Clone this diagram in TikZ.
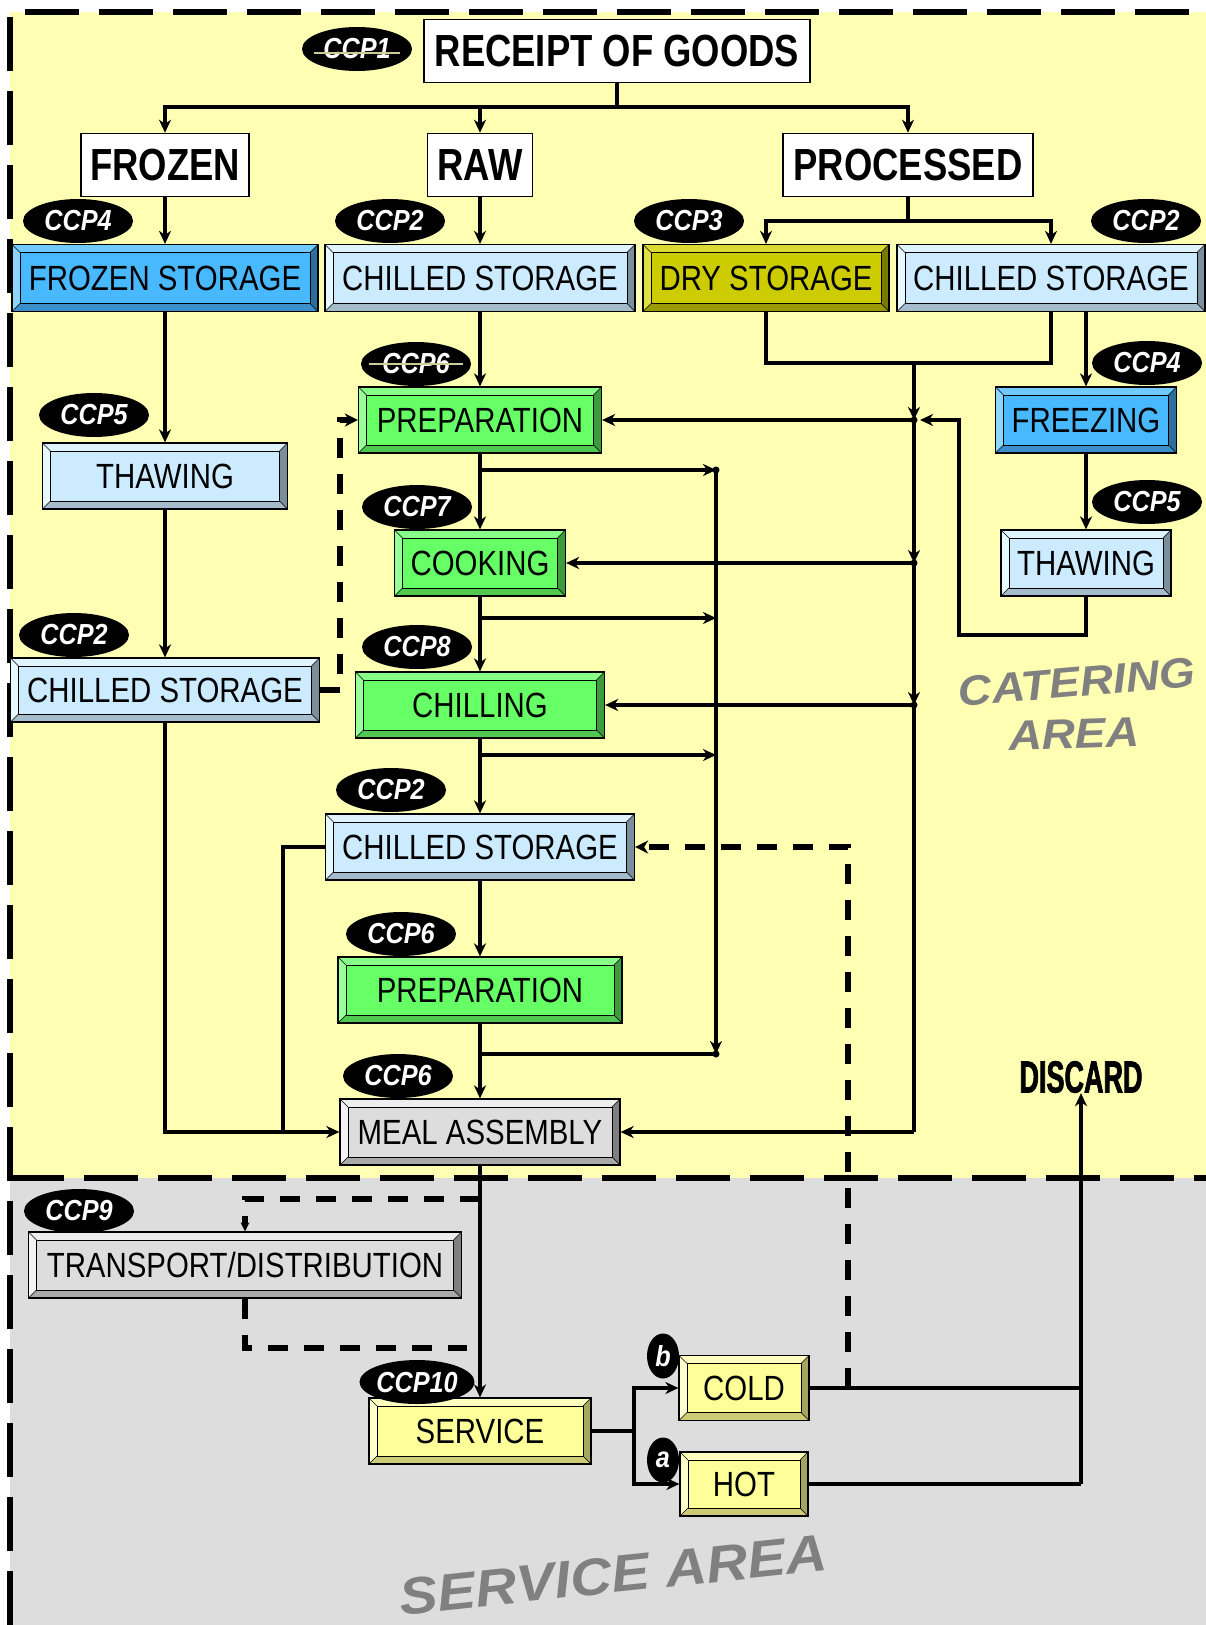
\documentclass[tikz,border=0pt]{standalone}
\usepackage{fontspec}
\setmainfont{Liberation Sans}
\newfontfamily\stagefam[FakeStretch=0.84]{Liberation Sans}
\newfontfamily\titlefam[FakeStretch=0.81]{Liberation Sans}
\newfontfamily\tagfam[FakeStretch=0.87]{Liberation Sans}
\newfontfamily\discfam[FakeStretch=0.6,FakeBold=1.6]{Liberation Sans}
\newfontfamily\zonefam[FakeStretch=1.1]{Liberation Sans}
\newcommand\stagefont{\stagefam\fontsize{35}{40}\selectfont}
\newcommand\titlefont{\titlefam\bfseries\fontsize{45}{50}\selectfont}
\newcommand\tagfont{\tagfam\bfseries\itshape\fontsize{29}{33}\selectfont}
\newcommand\discfont{\discfam\bfseries\fontsize{45}{50}\selectfont}
\newcommand\zonefont{\zonefam\bfseries\itshape\fontsize{42}{46}\selectfont}
\usepackage{xcolor}
\definecolor{hcyellow}{HTML}{FFFFB3}
\definecolor{hcgrey}{HTML}{DDDDDD}
\definecolor{hczone}{HTML}{808080}
\definecolor{hcstrike}{HTML}{CCCC99}
\definecolor{hcblue}{HTML}{48B8FF}
\definecolor{hcbluetop}{HTML}{70CAFF}
\definecolor{hcblueleft}{HTML}{8CD5FF}
\definecolor{hcbluebot}{HTML}{3A8FCC}
\definecolor{hcblueright}{HTML}{2C6E9E}
\definecolor{hcice}{HTML}{CCEBFF}
\definecolor{hcicetop}{HTML}{E0F4FF}
\definecolor{hciceleft}{HTML}{E8F8FF}
\definecolor{hcicebot}{HTML}{A5BCCC}
\definecolor{hciceright}{HTML}{7B8E9C}
\definecolor{hcgreen}{HTML}{66FF66}
\definecolor{hcgreentop}{HTML}{88FF88}
\definecolor{hcgreenleft}{HTML}{99FF99}
\definecolor{hcgreenbot}{HTML}{50C850}
\definecolor{hcgreenright}{HTML}{3C9C3C}
\definecolor{hcolive}{HTML}{CCCC00}
\definecolor{hcolivetop}{HTML}{DADA30}
\definecolor{hcoliveleft}{HTML}{E0E040}
\definecolor{hcolivebot}{HTML}{9A9A00}
\definecolor{hcoliveright}{HTML}{7A7A00}
\definecolor{hcsilver}{HTML}{DDDDDD}
\definecolor{hcsilvertop}{HTML}{EEEEEE}
\definecolor{hcsilverleft}{HTML}{F4F4F4}
\definecolor{hcsilverbot}{HTML}{AAAAAA}
\definecolor{hcsilverright}{HTML}{7F7F7F}
\definecolor{hclemon}{HTML}{FFFF99}
\definecolor{hclemontop}{HTML}{FFFFC0}
\definecolor{hclemonleft}{HTML}{FFFFCC}
\definecolor{hclemonbot}{HTML}{CCCC77}
\definecolor{hclemonright}{HTML}{A5A560}
\usepackage{tikz}
\usetikzlibrary{arrows.meta,positioning,shapes.geometric}
\newcommand\bevelfaces{%
  \path (path picture bounding box.south west) coordinate (bvsw)
        (path picture bounding box.north east) coordinate (bvne)
        (path picture bounding box.north west) coordinate (bvnw)
        (path picture bounding box.south east) coordinate (bvse);
  \fill[bvtop] (bvnw) -- (bvne) -- ([shift={(-8pt,-8pt)}]bvne) -- ([shift={(8pt,-8pt)}]bvnw) -- cycle;
  \fill[bvleft] (bvnw) -- ([shift={(8pt,-8pt)}]bvnw) -- ([shift={(8pt,8pt)}]bvsw) -- (bvsw) -- cycle;
  \fill[bvbot] (bvsw) -- ([shift={(8pt,8pt)}]bvsw) -- ([shift={(-8pt,8pt)}]bvse) -- (bvse) -- cycle;
  \fill[bvright] (bvse) -- ([shift={(-8pt,8pt)}]bvse) -- ([shift={(-8pt,-8pt)}]bvne) -- (bvne) -- cycle;
  \draw[line width=0.9pt] ([shift={(8pt,8pt)}]bvsw) rectangle ([shift={(-8pt,-8pt)}]bvne);
  \draw[line width=0.6pt] (bvsw) -- ([shift={(8pt,8pt)}]bvsw) (bvse) -- ([shift={(-8pt,8pt)}]bvse)
    (bvne) -- ([shift={(-8pt,-8pt)}]bvne) (bvnw) -- ([shift={(8pt,-8pt)}]bvnw);}

\begin{document}
\begin{tikzpicture}[x=1pt, y=-1pt,
  bevel colors/.code n args={5}{\colorlet{bvface}{#1}\colorlet{bvtop}{#2}%
    \colorlet{bvleft}{#3}\colorlet{bvbot}{#4}\colorlet{bvright}{#5}},
  stage/.style={draw=black, line width=1.2pt, fill=bvface, inner sep=0pt,
                minimum height=66pt, font=\stagefont, path picture={\bevelfaces}},
  frzbox/.style={stage, bevel colors={hcblue}{hcbluetop}{hcblueleft}{hcbluebot}{hcblueright}},
  icebox/.style={stage, bevel colors={hcice}{hcicetop}{hciceleft}{hcicebot}{hciceright}},
  cookbox/.style={stage, bevel colors={hcgreen}{hcgreentop}{hcgreenleft}{hcgreenbot}{hcgreenright}},
  drybox/.style={stage, bevel colors={hcolive}{hcolivetop}{hcoliveleft}{hcolivebot}{hcoliveright}},
  greybox/.style={stage, bevel colors={hcsilver}{hcsilvertop}{hcsilverleft}{hcsilverbot}{hcsilverright}},
  servbox/.style={stage, bevel colors={hclemon}{hclemontop}{hclemonleft}{hclemonbot}{hclemonright}},
  plain/.style={draw=black, line width=1.5pt, fill=white, inner sep=0pt,
                minimum height=63pt, font=\titlefont},
  tag/.style={ellipse, fill=black, text=white, inner sep=0pt,
              minimum width=110pt, minimum height=44pt, font=\tagfont},
  letter/.style={tag, minimum width=32pt, minimum height=45pt},
  zone/.style={text=hczone, font=\zonefont, inner sep=0pt},
  arr/.style={line width=4pt, -{Stealth[length=13pt,width=12pt,inset=4pt]}},
  link/.style={line width=4pt},
  dasharr/.style={line width=6pt, dash pattern=on 20pt off 16pt,
                  -{Stealth[length=13pt,width=13pt,inset=4pt]}},
  dashlink/.style={line width=6pt, dash pattern=on 20pt off 16pt},
  border/.style={line width=6pt, dash pattern=on 54pt off 20pt},
  strike/.style={line width=1.2pt, draw=hcstrike}
]
  \useasboundingbox (0,0) rectangle (1206,1625);
  \fill[hcyellow] (10,12) rectangle (1206,1178);
  \fill[hcgrey] (10,1178) rectangle (1206,1625);
  \draw[border] (10,1625) -- (10,12) -- (1206,12);
  \draw[border] (10,1178) -- (1206,1178);

  \node[plain, minimum width=386pt] (receipt) at (617,51) {RECEIPT OF GOODS};
  \node[tag] (ccp1) at (357,49) {CCP1};
  \node[plain, minimum width=168pt] (frozen) at (165,165) {FROZEN};
  \node[plain, minimum width=105pt] (raw) at (480,165) {RAW};
  \node[plain, minimum width=250pt] (processed) at (908,165) {PROCESSED};
  \node[tag] (ccp4a) at (78,221) {CCP4};
  \node[tag] (ccp2a) at (390,221) {CCP2};
  \node[tag] (ccp3) at (689,221) {CCP3};
  \node[tag] (ccp2b) at (1146,221) {CCP2};
  \node[frzbox, minimum width=306pt, minimum height=67pt] (fstore) at (165,278) {FROZEN STORAGE};
  \node[icebox, minimum width=310pt, minimum height=67pt] (cstore1) at (480,278) {CHILLED STORAGE};
  \node[drybox, minimum width=246pt, minimum height=67pt] (dstore) at (766,278) {DRY STORAGE};
  \node[icebox, minimum width=308pt, minimum height=67pt] (cstore2) at (1051,278) {CHILLED STORAGE};
  \node[tag] (ccp5a) at (94,415) {CCP5};
  \node[icebox, minimum width=245pt] (thaw1) at (165,476) {THAWING};
  \node[tag] (ccp2c) at (74,635) {CCP2};
  \node[icebox, minimum width=309pt, minimum height=64pt] (cstore3) at (165,690) {CHILLED STORAGE};
  \node[tag] (ccp6a) at (416,364) {CCP6};
  \node[cookbox, minimum width=243pt] (prep1) at (480,420) {PREPARATION};
  \node[tag] (ccp7) at (417,507) {CCP7};
  \node[cookbox, minimum width=171pt] (cook) at (480,563) {COOKING};
  \node[tag] (ccp8) at (417,647) {CCP8};
  \node[cookbox, minimum width=249pt] (chill) at (480,705) {CHILLING};
  \node[tag] (ccp2d) at (391,790) {CCP2};
  \node[icebox, minimum width=309pt] (cstore4) at (480,847) {CHILLED STORAGE};
  \node[tag] (ccp6b) at (401,934) {CCP6};
  \node[cookbox, minimum width=284pt] (prep2) at (480,990) {PREPARATION};
  \node[tag] (ccp6c) at (398,1076) {CCP6};
  \node[greybox, minimum width=280pt] (meal) at (480,1132) {MEAL ASSEMBLY};
  \node[tag] (ccp4b) at (1147,363) {CCP4};
  \node[frzbox, minimum width=181pt] (freeze) at (1086,420) {FREEZING};
  \node[tag] (ccp5b) at (1147,502) {CCP5};
  \node[icebox, minimum width=170pt] (thaw2) at (1086,563) {THAWING};
  \node[tag] (ccp9) at (79,1211) {CCP9};
  \node[greybox, minimum width=433pt] (transport) at (245,1265) {TRANSPORT/DISTRIBUTION};
  \node[servbox, minimum width=222pt] (service) at (480,1431) {SERVICE};
  \node[tag] (ccp10) at (417,1382) {CCP10};
  \node[servbox, minimum width=130pt, minimum height=65pt] (cold) at (744,1388) {\raisebox{-5pt}{COLD}};
  \node[servbox, minimum width=128pt, minimum height=64pt] (hot) at (744,1484) {HOT};
  \node[letter] (tagb) at (663,1356) {b};
  \node[letter] (taga) at (663,1460) {a};
  \node[font=\discfont, inner sep=0pt] (discard) at (1081,1077) {DISCARD};
  \node[zone, rotate=5] (catering) at (1077,682) {CATERING};
  \node[zone, rotate=2] (cateringarea) at (1074,734) {AREA};
  \node[zone, font={\zonefam\bfseries\itshape\fontsize{52}{56}\selectfont}, rotate=6]
    (servicearea) at (613,1575) {SERVICE AREA};

  \draw[strike] ([xshift=12pt,yshift=-4pt]ccp1.west) -- ([xshift=-12pt,yshift=-4pt]ccp1.east);
  \draw[strike] ([xshift=8pt]ccp6a.west) -- ([xshift=-8pt]ccp6a.east);

  \coordinate (split1) at (617,107);
  \coordinate (split2) at (908,221);
  \coordinate (drymerge) at (914,363);
  \coordinate (hubA) at (914,420);
  \coordinate (hubB) at (914,563);
  \coordinate (hubC) at (914,705);
  \coordinate (hubD) at (914,1132);
  \coordinate (thawret) at (959,635);
  \coordinate (tapA) at (480,470);
  \coordinate (tapB) at (480,618);
  \coordinate (tapC) at (480,755);
  \coordinate (tapD) at (480,1054);
  \coordinate (loopA) at (716,470);
  \coordinate (loopD) at (716,1054);
  \coordinate (leftjoin) at (283,1132);
  \coordinate (coldtap) at (848,1388);
  \coordinate (servsplit) at (634,1431);
  \coordinate (discardfoot) at (1081,1484);
  \coordinate (trin) at (480,1199);
  \coordinate (trout) at (467,1348);

  \draw[link] (receipt) -- (split1);
  \draw[arr] (split1) -| (frozen);
  \draw[arr] (split1) -| (processed);
  \draw[arr] (raw |- split1) -- (raw);
  \draw[arr] (frozen) -- (fstore);
  \draw[arr] (raw) -- (cstore1);
  \draw[link] (processed) -- (split2);
  \draw[arr] (split2) -| (dstore);
  \draw[arr] (split2) -| (cstore2);
  \draw[arr] (fstore) -- (thaw1);
  \draw[arr] (thaw1) -- (cstore3);
  \draw[arr] (cstore3) |- (meal);
  \draw[dasharr] (cstore3.east) -- ++(20,0) |- (prep1);
  \draw[arr] (cstore1) -- (prep1);
  \draw[arr] (prep1) -- (cook);
  \draw[arr] (cook) -- (chill);
  \draw[arr] (chill) -- (cstore4);
  \draw[arr] (cstore4) -- (prep2);
  \draw[arr] (prep2) -- (meal);
  \draw[arr] (tapA) -- (loopA);
  \draw[arr] (tapB) -- (tapB -| loopA);
  \draw[arr] (tapC) -- (tapC -| loopA);
  \draw[arr] (loopA) -- (loopD);
  \draw[link] (loopD) -- (tapD);
  \draw[link] (cstore4) -| (leftjoin);
  \draw[link] (dstore) |- (cstore2.south |- drymerge) -- (cstore2);
  \draw[arr] (drymerge) -- (hubA);
  \draw[arr] (hubA) -- (prep1);
  \draw[arr] (hubA) -- (hubB);
  \draw[arr] (hubB) -- (cook);
  \draw[arr] (hubB) -- (hubC);
  \draw[arr] (hubC) -- (chill);
  \draw[link] (hubC) -- (hubD);
  \draw[arr] (hubD) -- (meal);
  \draw[arr] (cstore2.south -| freeze) -- (freeze);
  \draw[arr] (freeze) -- (thaw2);
  \draw[arr, shorten >=6pt] (thaw2) |- (thawret) |- (hubA);
  \draw[arr] (meal) -- (service);
  \draw[dashlink, -{Stealth[length=9pt,width=9pt]}] (trin) -| (transport);
  \draw[dashlink] (transport) |- (trout);
  \draw[link] (service) -- (servsplit);
  \draw[arr] (servsplit) |- (cold);
  \draw[arr] (servsplit) |- (hot);
  \draw[link] (cold) -- (cold -| discardfoot);
  \draw[link] (hot) -- (discardfoot);
  \draw[arr] (discardfoot) -- (discard);
  \draw[dasharr] (coldtap) |- (cstore4);
  \fill (loopA) circle (3.5pt) (loopD) circle (3.5pt) (hubA) circle (3.5pt)
        (hubB) circle (3.5pt) (hubC) circle (3.5pt);
\end{tikzpicture}
\end{document}
